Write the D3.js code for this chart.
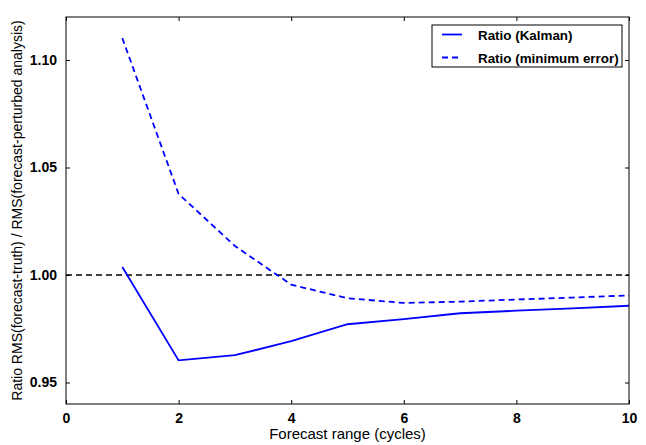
<!DOCTYPE html>
<html>
<head>
<meta charset="utf-8">
<script src="https://cdn.jsdelivr.net/npm/d3@7/dist/d3.min.js"></script>
<style>
  body { margin: 0; background: #fff; }
  svg text { font-family: "Liberation Sans", Arial, sans-serif; }
</style>
</head>
<body>
<div id="wrapper"></div>
<script>
// Data
const cycles = [1, 2, 3, 4, 5, 6, 7, 8, 9, 10]
const kalmanRatio = [1.0037, 0.9603, 0.9627, 0.9692, 0.9771, 0.9795, 0.9822, 0.9834, 0.9845, 0.9857]
const minErrorRatio = [1.1102, 1.0377, 1.0135, 0.9955, 0.9892, 0.9870, 0.9876, 0.9886, 0.9895, 0.9905]
const xTicks = [0, 2, 4, 6, 8, 10]
const yTicks = [0.95, 1.00, 1.05, 1.10]
const referenceLevel = 1.0
const legendLabels = ['Ratio (Kalman)', 'Ratio (minimum error)']

function drawChart() {
	let dimensions = {
		width: 646,
		height: 445,
		margin: { top: 17, right: 17, bottom: 41, left: 66 },
	}
	dimensions.boundedWidth = dimensions.width - dimensions.margin.left - dimensions.margin.right
	dimensions.boundedHeight = dimensions.height - dimensions.margin.top - dimensions.margin.bottom

	const wrapper = d3.select('#wrapper')
		.append('svg')
			.attr('width', dimensions.width)
			.attr('height', dimensions.height)

	const bounds = wrapper.append('g')
		.attr('transform', `translate(${dimensions.margin.left},${dimensions.margin.top})`)

	// Scales
	const xScale = d3.scaleLinear()
		.domain([0, 10])
		.range([0, dimensions.boundedWidth])

	const yScale = d3.scaleLinear()
		.domain([0.94, 1.12])
		.range([dimensions.boundedHeight, 0])

	// Reference line at 1.0
	bounds.append('line')
		.attr('x1', xScale(0))
		.attr('x2', xScale(10))
		.attr('y1', yScale(referenceLevel))
		.attr('y2', yScale(referenceLevel))
		.attr('stroke', '#000')
		.attr('stroke-width', 1.5)
		.attr('stroke-dasharray', '6,4')

	// Lines
	const lineGenerator = values => d3.line()
		.x((d, i) => xScale(cycles[i]))
		.y(d => yScale(d))(values)

	bounds.append('path')
		.attr('d', lineGenerator(kalmanRatio))
		.attr('fill', 'none')
		.attr('stroke', '#0000ff')
		.attr('stroke-width', 1.8)

	bounds.append('path')
		.attr('d', lineGenerator(minErrorRatio))
		.attr('fill', 'none')
		.attr('stroke', '#0000ff')
		.attr('stroke-width', 1.8)
		.attr('stroke-dasharray', '6,4')

	// Axes (ticks point inward, on all four sides)
	const tickStyle = g => {
		g.select('.domain').remove()
		g.selectAll('.tick line').attr('stroke', '#000')
		g.selectAll('.tick text')
			.attr('fill', '#000')
			.style('font-size', '14px')
			.style('font-weight', 'bold')
	}

	const xAxis = bounds.append('g')
		.attr('transform', `translate(0,${dimensions.boundedHeight})`)
		.call(d3.axisBottom(xScale).tickValues(xTicks).tickFormat(d3.format('d'))
			.tickSizeInner(-4).tickPadding(9))
		.call(tickStyle)

	const xAxisTop = bounds.append('g')
		.call(d3.axisTop(xScale).tickValues(xTicks).tickFormat('').tickSizeInner(-4))
		.call(tickStyle)

	const yAxis = bounds.append('g')
		.call(d3.axisLeft(yScale).tickValues(yTicks).tickFormat(d3.format('.2f'))
			.tickSizeInner(-4).tickPadding(9))
		.call(tickStyle)

	const yAxisRight = bounds.append('g')
		.attr('transform', `translate(${dimensions.boundedWidth},0)`)
		.call(d3.axisRight(yScale).tickValues(yTicks).tickFormat('').tickSizeInner(-4))
		.call(tickStyle)

	// Frame
	bounds.append('rect')
		.attr('width', dimensions.boundedWidth)
		.attr('height', dimensions.boundedHeight)
		.attr('fill', 'none')
		.attr('stroke', '#000')
		.attr('stroke-width', 1)

	// Axis labels
	wrapper.append('text')
		.attr('x', dimensions.margin.left + dimensions.boundedWidth / 2)
		.attr('y', 439)
		.attr('text-anchor', 'middle')
		.style('font-size', '15px')
		.text('Forecast range (cycles)')

	wrapper.append('text')
		.attr('transform', `translate(22,${dimensions.margin.top + dimensions.boundedHeight / 2}) rotate(-90)`)
		.attr('text-anchor', 'middle')
		.style('font-size', '14px')
		.text('Ratio RMS(forecast-truth) / RMS(forecast-perturbed analysis)')

	// Legend
	const legend = wrapper.append('g')
		.attr('transform', 'translate(432,25)')

	legend.append('rect')
		.attr('width', 190)
		.attr('height', 42)
		.attr('fill', '#fff')
		.attr('stroke', '#000')
		.attr('stroke-width', 1)

	legendLabels.forEach((label, i) => {
		const y = 9.5 + i * 23
		legend.append('line')
			.attr('x1', 10)
			.attr('x2', 30)
			.attr('y1', y)
			.attr('y2', y)
			.attr('stroke', '#0000ff')
			.attr('stroke-width', 1.8)
			.attr('stroke-dasharray', i === 1 ? '6,4' : null)
		legend.append('text')
			.attr('x', 46)
			.attr('y', y + 5)
			.style('font-size', '13.4px')
			.style('font-weight', 'bold')
			.text(label)
	})
}
drawChart()
</script>
</body>
</html>
